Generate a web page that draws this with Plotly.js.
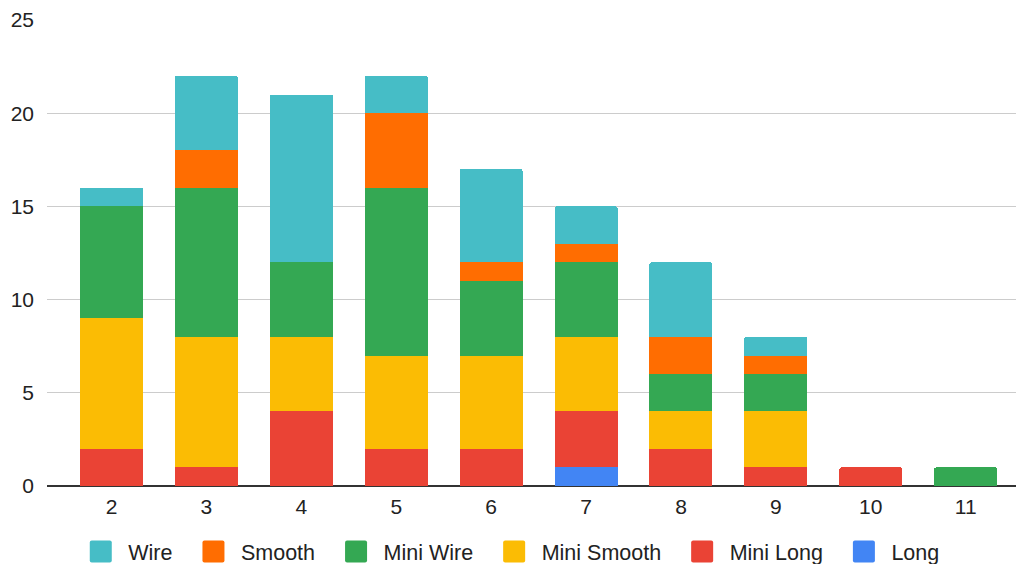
<!DOCTYPE html>
<html>
<head>
<meta charset="utf-8">
<script src="https://cdn.plot.ly/plotly-3.0.1.min.js"></script>
<style>
  html, body { margin: 0; padding: 0; background: #fff; }
  #chart { width: 1019px; height: 564px; }
</style>
</head>
<body>
<div id="chart"></div>
<script>
// Categories along the x axis
const categories = ['2', '3', '4', '5', '6', '7', '8', '9', '10', '11'];

// Stacked series values, bottom of the stack first
const longVals        = [0, 0, 0, 0, 0, 1, 0, 0, 0, 0];
const miniLongVals    = [2, 1, 4, 2, 2, 3, 2, 1, 1, 0];
const miniSmoothVals  = [7, 7, 4, 5, 5, 4, 2, 3, 0, 0];
const miniWireVals    = [6, 8, 4, 9, 4, 4, 2, 2, 0, 1];
const smoothVals      = [0, 2, 0, 4, 1, 1, 2, 1, 0, 0];
const wireVals        = [1, 4, 9, 2, 5, 2, 4, 1, 0, 0];

const yTicks = [0, 5, 10, 15, 20, 25];

const seriesDefs = [
  { name: 'Long',        y: longVals,       color: '#4285F4' },
  { name: 'Mini Long',   y: miniLongVals,   color: '#EA4335' },
  { name: 'Mini Smooth', y: miniSmoothVals, color: '#FBBC04' },
  { name: 'Mini Wire',   y: miniWireVals,   color: '#34A853' },
  { name: 'Smooth',      y: smoothVals,     color: '#FF6D01' },
  { name: 'Wire',        y: wireVals,       color: '#46BDC6' }
];

const traces = seriesDefs.map(s => ({
  type: 'bar',
  name: s.name,
  x: categories,
  y: s.y,
  marker: { color: s.color, line: { width: 0 } },
  hoverinfo: 'x+y+name'
}));

const fontFamily = 'Arial, "Liberation Sans", sans-serif';
const font = { family: fontFamily, size: 21, color: '#222222' };

const layout = {
  width: 1019,
  height: 564,
  barmode: 'stack',
  bargap: 0.336,
  barcornerradius: 2,
  paper_bgcolor: '#ffffff',
  plot_bgcolor: '#ffffff',
  font: font,
  showlegend: true,
  legend: {
    orientation: 'h',
    traceorder: 'reversed',
    itemwidth: 45,
    xref: 'paper',
    x: 0.5, xanchor: 'center',
    yref: 'container',
    y: 0.022, yanchor: 'middle',
    font: { family: fontFamily, size: 21.5, color: '#222222' }
  },
  margin: { l: 47, r: 3, t: 20, b: 78 },
  xaxis: {
    type: 'category',
    range: [-0.68, 9.53],
    showgrid: false,
    zeroline: false,
    showline: false,
    ticks: '',
    ticklabelstandoff: 6,
    tickfont: font,
    fixedrange: true
  },
  yaxis: {
    range: [0, 25],
    tickvals: yTicks,
    ticktext: yTicks.map(String),
    showgrid: true,
    gridcolor: '#cccccc',
    gridwidth: 1,
    zeroline: true,
    zerolinecolor: '#333333',
    zerolinewidth: 2,
    ticks: '',
    ticklabelstandoff: 12,
    tickfont: font,
    fixedrange: true
  }
};

// Rounded square swatch for the legend entries
const swatch = 'M-9,-11H9A2,2 0 0 1 11,-9V9A2,2 0 0 1 9,11H-9A2,2 0 0 1 -11,9V-9A2,2 0 0 1 -9,-11Z';
const entryGap = 30;          // space between one label and the next swatch
const legendCenter = 514.5;   // horizontal centre of the legend row

function parseTranslate(el) {
  const m = /translate\(\s*([-\d.e]+)[ ,]+([-\d.e]+)\s*\)/.exec(el.getAttribute('transform') || '');
  return m ? [parseFloat(m[1]), parseFloat(m[2])] : [0, 0];
}

function spaceLegend() {
  const root = document.querySelector('#chart .legend');
  if (!root) return;
  root.querySelectorAll('.legendpoints path').forEach(p => p.setAttribute('d', swatch));

  const items = Array.from(root.querySelectorAll('.traces'));
  items.sort((a, b) => a.getBoundingClientRect().left - b.getBoundingClientRect().left);

  let prevRight = null;
  items.forEach(g => {
    const [tx, ty] = parseTranslate(g);
    if (prevRight !== null) {
      const left = g.querySelector('.legendpoints path').getBoundingClientRect().left;
      g.setAttribute('transform', `translate(${tx + (prevRight + entryGap) - left},${ty})`);
    }
    prevRight = g.querySelector('text.legendtext').getBoundingClientRect().right;
  });

  const scroll = root.querySelector('.scrollbox');
  if (scroll) scroll.removeAttribute('clip-path');

  const first = items[0].querySelector('.legendpoints path').getBoundingClientRect().left;
  const last = items[items.length - 1].querySelector('text.legendtext').getBoundingClientRect().right;
  const [lx, ly] = parseTranslate(root);
  root.setAttribute('transform', `translate(${lx + legendCenter - (first + last) / 2},${ly})`);
}

Plotly.newPlot('chart', traces, layout, { displayModeBar: false, staticPlot: true }).then(spaceLegend);
</script>
</body>
</html>
